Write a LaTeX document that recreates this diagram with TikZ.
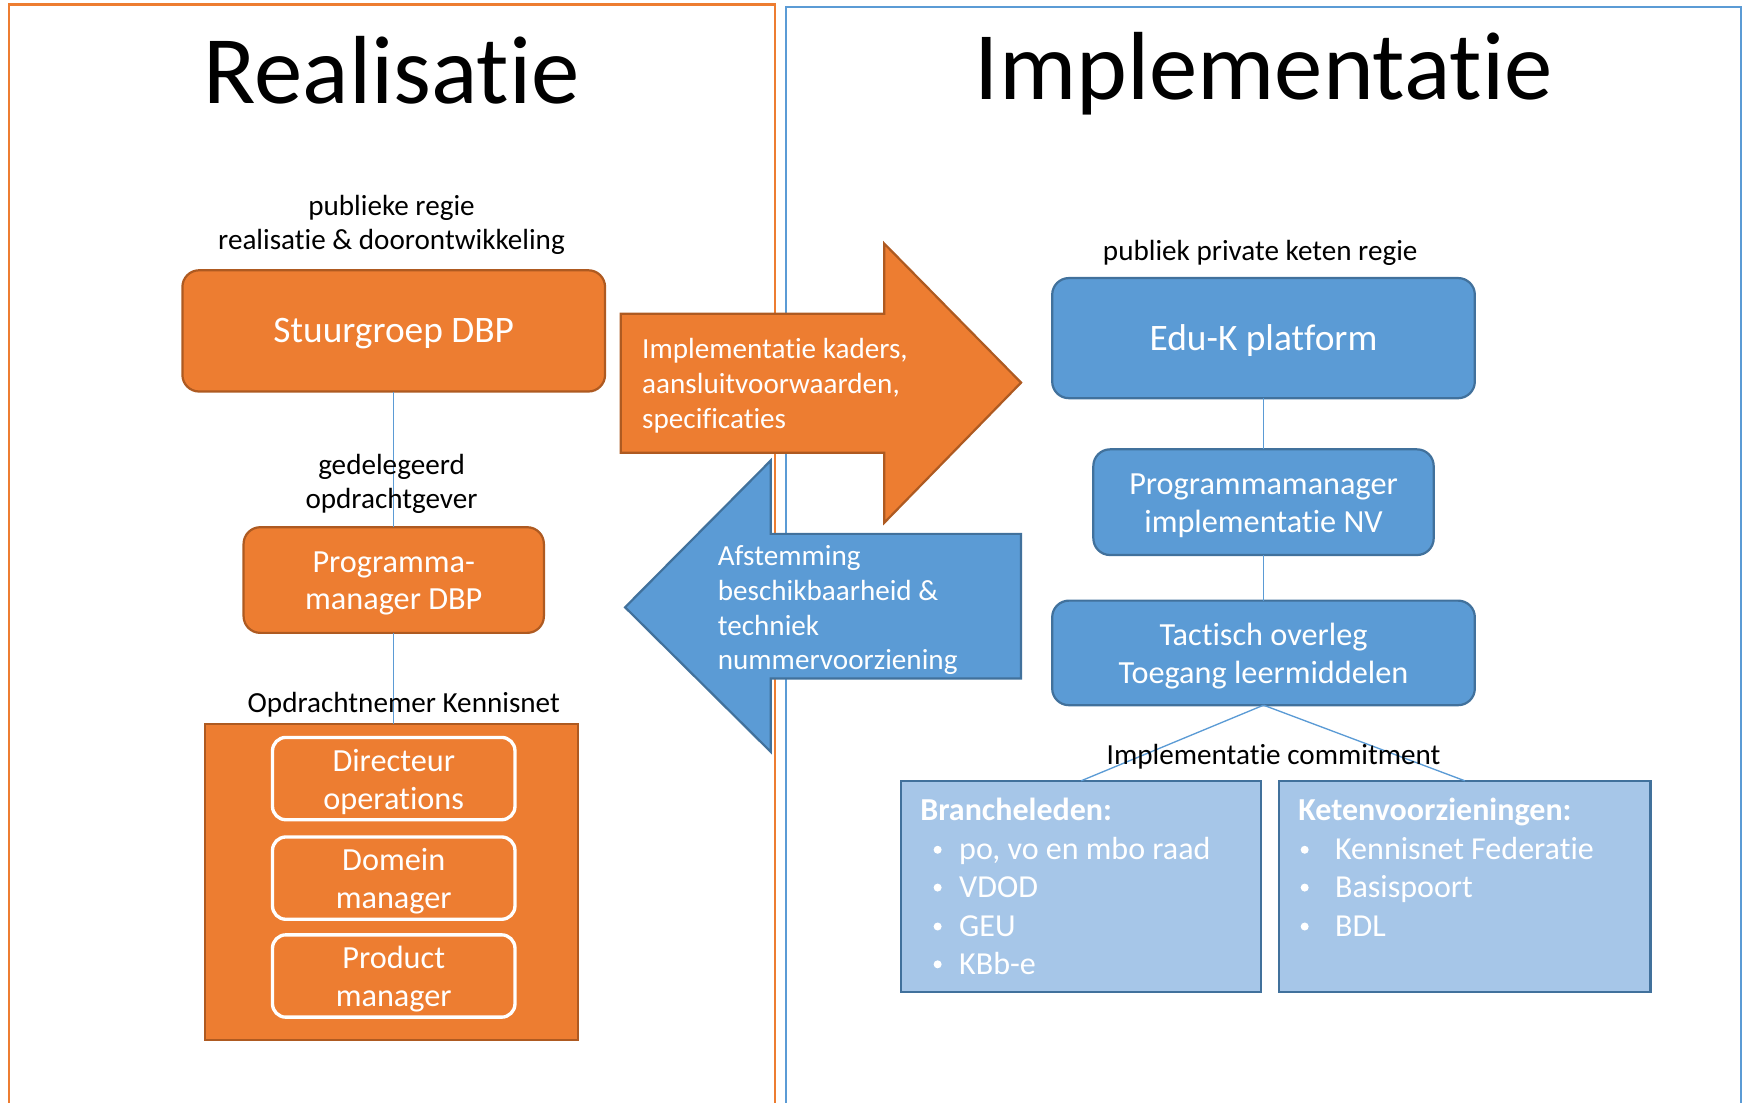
\documentclass[tikz,border=0pt]{standalone}
\usepackage{fontspec}
\setmainfont{Carlito}[Ligatures=NoCommon]
\definecolor{orf}{HTML}{ED7D31}
\definecolor{ord}{HTML}{AE5A21}
\definecolor{blf}{HTML}{5B9BD5}
\definecolor{bld}{HTML}{41719C}
\definecolor{lbl}{HTML}{A6C6E8}
\tikzset{
  obox/.style={draw=ord, fill=orf, line width=1pt, rounded corners=7.5pt, inner sep=0pt, outer sep=0pt},
  bbox/.style={draw=bld, fill=blf, line width=1pt, rounded corners=7.5pt, inner sep=0pt, outer sep=0pt},
  wbox/.style={draw=white, line width=1.5pt, rounded corners=6pt, inner sep=0pt, outer sep=0pt, minimum width=109pt, minimum height=37pt},
  lbox/.style={draw=bld, fill=lbl, line width=1pt, inner sep=0pt, outer sep=0pt},
  wt/.style={text=white, align=center, inner sep=0pt, font=\fontsize{14.5}{17}\selectfont},
  bigt/.style={text=white, align=center, inner sep=0pt, font=\fontsize{16.8}{19}\selectfont},
  lab/.style={font=\fontsize{13.1}{15.5}\selectfont, align=center, inner sep=0pt},
  con/.style={draw=blf, line width=0.6pt},
  li/.style={anchor=base west, text=white, font=\fontsize{14.4}{17}\selectfont, inner sep=0pt},
  arrtxt/.style={anchor=west, text=white, align=left, font=\fontsize{13.1}{15.7}\selectfont, inner sep=0pt},
}
\begin{document}
\begin{tikzpicture}[x=0.5pt,y=-0.5pt]
\useasboundingbox (0,0) rectangle (1568,991);
% frames
\draw[orf, line width=1pt] (8,995) -- (8,4) -- (697,4) -- (697,995);
\draw[blf, line width=1pt] (707,995) -- (707,6) -- (1565,6) -- (1565,995);
% titles
\node[font=\fontsize{43.5}{50}\selectfont, inner sep=0pt] (t1) at (352,63) {Realisatie};
\node[font=\fontsize{43.5}{50}\selectfont, inner sep=0pt] (t2) at (1136,66) {Implementatie};
% left side
\node[lab] (l1) at (352,202) {publieke regie\\realisatie \& doorontwikkeling};
\node[obox, minimum width=190pt, minimum height=54.5pt] (stuur) at (354,297.5) {};
\node[bigt] (stuurt) at (354,300) {Stuurgroep DBP};
\node[obox, minimum width=135pt, minimum height=47.5pt] (pm) at (354,521.5) {};
\node[wt] (pmt) at (354,524.5) {Programma-\\manager DBP};
\node[draw=ord, fill=orf, line width=1pt, inner sep=0pt, outer sep=0pt, minimum width=168pt, minimum height=142pt] (kn) at (352,793) {};
\draw[con] (stuur.south) -- (pm.north);
\draw[con] (pm.south) -- (pm.south |- kn.north);
\node[lab] (l2) at (352,435) {gedelegeerd\\opdrachtgever};
\node[lab] (l3) at (363,634) {Opdrachtnemer Kennisnet};
\node[wbox] (d1) at (354,700) {};
\node[wt] (d1t) at (354,703) {Directeur\\operations};
\node[wbox] (d2) at (354,789.5) {};
\node[wt] (d2t) at (354,792.5) {Domein\\manager};
\node[wbox] (d3) at (354,877.5) {};
\node[wt] (d3t) at (354,880.5) {Product\\manager};
% arrows
\draw[draw=ord, fill=orf, line width=1pt] (558,282) -- (795,282) -- (795,219) -- (918,344) -- (795,470) -- (795,407) -- (558,407) -- cycle;
\node[arrtxt] (a1) at (577,347) {Implementatie kaders,\\aansluitvoorwaarden,\\specificaties};
\draw[draw=bld, fill=blf, line width=1pt] (918,480) -- (693,480) -- (693,414) -- (562,546) -- (693,676) -- (693,610) -- (918,610) -- cycle;
\node[arrtxt] (a2) at (645,548.5) {Afstemming\\beschikbaarheid \&\\techniek\\nummervoorziening};
% right side
\node[lab] (r1) at (1133,227) {publiek private keten regie};
\node[bbox, minimum width=190pt, minimum height=54pt] (edu) at (1136,304) {};
\node[bigt] (edut) at (1136,306.5) {Edu-K platform};
\node[bbox, minimum width=153pt, minimum height=47.5pt] (pmnv) at (1136,451.5) {};
\node[wt] (pmnvt) at (1136,454.5) {Programmamanager\\implementatie NV};
\node[bbox, minimum width=190pt, minimum height=47pt] (tact) at (1136,587) {};
\node[wt] (tactt) at (1136,590) {Tactisch overleg\\Toegang leermiddelen};
\node[lbox, minimum width=162pt, minimum height=95pt] (bran) at (972,797) {};
\node[lbox, minimum width=167pt, minimum height=95pt] (ket) at (1317,797) {};
\draw[con] (edu.south) -- (pmnv.north);
\draw[con] (pmnv.south) -- (tact.north);
\draw[con] (tact.south) -- (bran.north);
\draw[con] (tact.south) -- (ket.north);
\node[lab] (r2) at (1145,680) {Implementatie commitment};
% lists
\node[li, font=\fontsize{14.4}{17}\bfseries] (bh) at (827,738) {Brancheleden:};
\node[li] (b1) at (862,773) {po, vo en mbo raad};
\node[li] (b2) at (862,807) {VDOD};
\node[li] (b3) at (862,842) {GEU};
\node[li] (b4) at (862,876) {KBb-e};
\foreach \y in {764,798,833,867} \fill[white] (843,\y) circle (1.8pt);
\node[li, font=\fontsize{14.4}{17}\bfseries] (kh) at (1167,738) {Ketenvoorzieningen:};
\node[li] (k1) at (1200,773) {Kennisnet Federatie};
\node[li] (k2) at (1200,807) {Basispoort};
\node[li] (k3) at (1200,842) {BDL};
\foreach \y in {764,798,833} \fill[white] (1173,\y) circle (1.8pt);
\end{tikzpicture}
\end{document}
